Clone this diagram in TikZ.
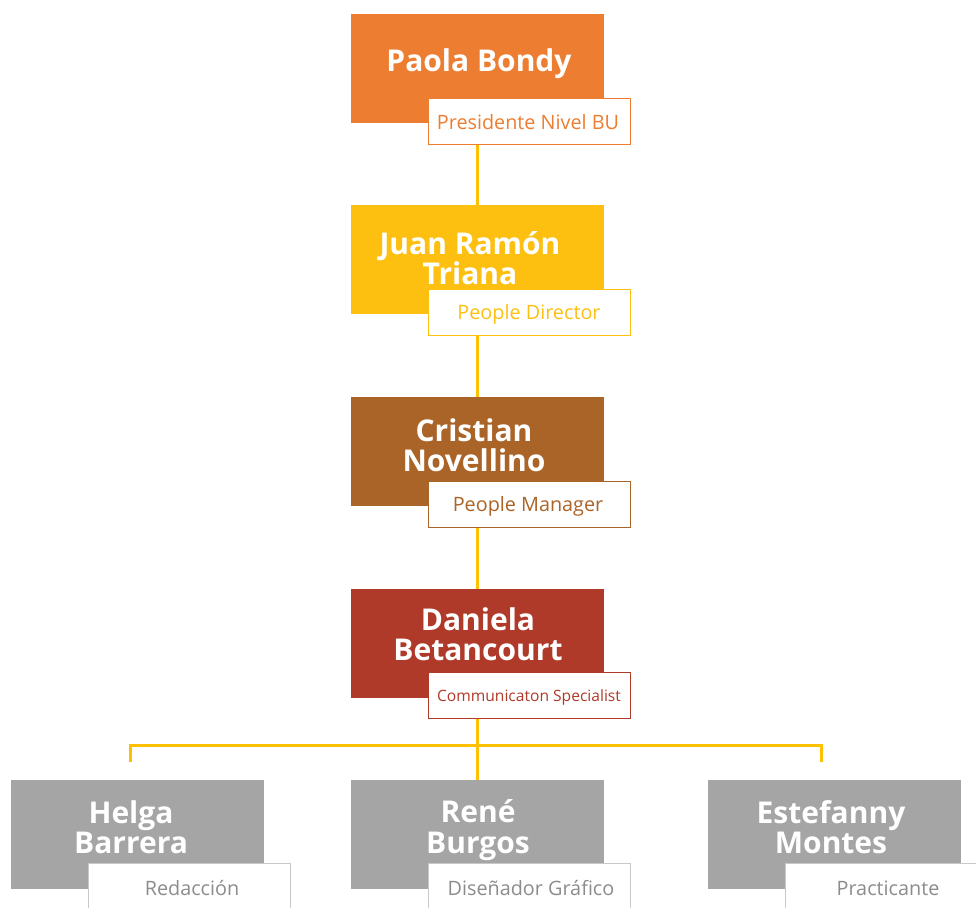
\documentclass[tikz,border=0pt]{standalone}
\usepackage{fontspec}
\setmainfont{Open Sans}
\definecolor{corange}{HTML}{ED7D31}
\definecolor{cyellow}{HTML}{FDC010}
\definecolor{cbrown}{HTML}{AB6428}
\definecolor{cred}{HTML}{B03A29}
\definecolor{cgray}{HTML}{A5A5A5}
\definecolor{cgrayline}{HTML}{C8C8C8}
\definecolor{cgraytext}{HTML}{8C8C8C}
\definecolor{cline}{HTML}{FFC000}
\tikzset{
  namebox/.style={fill=#1, draw=none, minimum width=253pt, minimum height=109pt, inner sep=0pt, anchor=north west},
  nametext/.style={text=white, font=\fontsize{30}{30.5}\selectfont\bfseries, align=center, inner sep=0pt},
  rolebox/.style={fill=white, draw=#1, line width=1.2pt, minimum width=202pt, minimum height=46pt, inner sep=0pt, anchor=north west},
  roletext/.style={text=#1, font=\fontsize{19.8}{21}\selectfont, inner sep=0pt},
  conn/.style={draw=cline, line width=3pt}
}
\begin{document}
\begin{tikzpicture}[x=1pt,y=-1pt]
\useasboundingbox (0,0) rectangle (976,907);
\clip (0,0) rectangle (976,907);
\coordinate (jL) at (130,745);
\coordinate (jR) at (821,745);
\coordinate (dL) at (130,762);
\coordinate (dR) at (821,762);
% boxes
\node[namebox=corange] (b1) at (351,14) {};
\node[rolebox=corange] (r1) at (428,98) {};
\node[namebox=cyellow] (b2) at (351,205) {};
\node[rolebox=cyellow] (r2) at (428,289) {};
\node[namebox=cbrown] (b3) at (351,397) {};
\node[rolebox=cbrown] (r3) at (428,481) {};
\node[namebox=cred] (b4) at (351,589) {};
\node[rolebox=cred] (r4) at (428,672) {};
\node[namebox=cgray] (b5) at (11,780) {};
\node[rolebox=cgrayline] (r5) at (88,863) {};
\node[namebox=cgray] (b6) at (351,780) {};
\node[rolebox=cgrayline] (r6) at (428,863) {};
\node[namebox=cgray] (b7) at (708,780) {};
\node[rolebox=cgrayline] (r7) at (785,863) {};
% connectors
\draw[conn] (r1.south -| 477,0) -- (b2.north -| 477,0);
\draw[conn] (r2.south -| 477,0) -- (b3.north -| 477,0);
\draw[conn] (r3.south -| 477,0) -- (b4.north -| 477,0);
\draw[conn] (r4.south -| 477,0) -- (b6.north -| 477,0);
\draw[conn, line join=miter] (dL) -- (jL) -- (jR) -- (dR);
% names
\node[nametext] (n1) at (479,64) {Paola Bondy};
\node[nametext] (n2) at (470,258) {Juan Ramón\\Triana};
\node[nametext] (n3) at (474,445) {Cristian\\Novellino};
\node[nametext] (n4) at (478,634) {Daniela\\Betancourt};
\node[nametext] (n5) at (131,827) {Helga\\Barrera};
\node[nametext] (n6) at (478,830) {René\\Burgos};
\node[nametext] (n7) at (831,827) {Estefanny\\Montes};
% roles
\node[roletext=corange] (t1) at (528,122) {Presidente Nivel BU};
\node[roletext=cyellow] (t2) at (529,314) {People Director};
\node[roletext=cbrown] (t3) at (528,506) {People Manager};
\node[roletext=cred, font=\fontsize{15.6}{17}\selectfont] (t4) at (529,697) {Communicaton Specialist};
\node[roletext=cgraytext] (t5) at (192,888) {Redacción};
\node[roletext=cgraytext] (t6) at (531,888) {Diseñador Gráfico};
\node[roletext=cgraytext] (t7) at (888,888) {Practicante};
\end{tikzpicture}
\end{document}
